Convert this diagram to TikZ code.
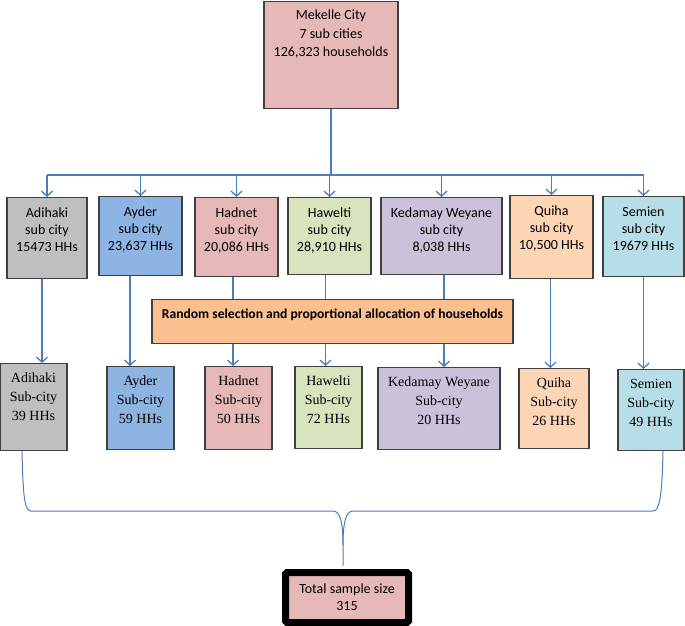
\documentclass[tikz,border=0pt]{standalone}
\usepackage{fontspec}
\setmainfont{Carlito}
\newfontfamily\timesfont{Liberation Serif}
\usetikzlibrary{arrows.meta}

\definecolor{linkblue}{HTML}{4A7EBB}
\definecolor{boxline}{HTML}{404040}
\definecolor{grayfill}{HTML}{BFBFBF}
\definecolor{bluefill}{HTML}{8EB4E3}
\definecolor{pinkfill}{HTML}{E6B9B8}
\definecolor{greenfill}{HTML}{D7E4BD}
\definecolor{purplefill}{HTML}{CCC1DA}
\definecolor{peachfill}{HTML}{FCD5B5}
\definecolor{cyanfill}{HTML}{B7DEE8}
\definecolor{orangefill}{HTML}{FAC090}

\tikzset{
  subcity/.style={draw=boxline, line width=1.4pt, fill=#1, align=center, anchor=north,
    inner xsep=2pt, inner ysep=9pt, text height=44.4pt, font=\fontsize{14}{16.7}\selectfont},
  sample/.style={draw=boxline, line width=1.4pt, fill=#1, align=center, anchor=north,
    inner xsep=2pt, inner ysep=8pt, text height=49pt, font=\timesfont\fontsize{14}{19}\selectfont},
  link/.style={draw=linkblue, line width=1.3pt},
}

\begin{document}
\begin{tikzpicture}[x=1pt, y=-1pt, >={Straight Barb[length=5pt,width=11pt]}]
	%\draw [help lines] (0,0) grid[step=50] (685,626);
	\useasboundingbox (0,0) rectangle (685,626);
	\node [subcity=pinkfill, minimum width=134pt, inner ysep=7pt, text height=48pt, text depth=45pt,
	  font=\fontsize{14}{18.5}\selectfont] (mek) at (331,1) {Mekelle City\\7 sub cities\\126,323 households};

	\node [subcity=grayfill, minimum width=80pt, text depth=18.6pt] (adi) at (47,197) {Adihaki\\sub city\\15473 HHs};
	\node [subcity=bluefill, minimum width=83pt, text depth=16.6pt] (ayd) at (140.5,196) {Ayder\\sub city\\23,637 HHs};
	\node [subcity=pinkfill, minimum width=83pt, text depth=16.6pt] (had) at (236.5,197) {Hadnet\\sub city\\20,086 HHs};
	\node [subcity=greenfill, minimum width=83pt, text depth=14.6pt] (haw) at (329.5,197) {Hawelti\\sub city\\28,910 HHs};
	\node [subcity=purplefill, minimum width=121pt, text depth=14.6pt] (ked) at (441.5,197) {Kedamay Weyane\\sub city\\8,038 HHs};
	\node [subcity=peachfill, minimum width=83pt, text depth=20.6pt] (qui) at (551.5,195) {Quiha\\sub city\\10,500 HHs};
	\node [subcity=cyanfill, minimum width=81pt, text depth=17.6pt] (sem) at (643.5,196) {Semien\\sub city\\19679 HHs};

	\node [subcity=orangefill, minimum width=361pt, inner ysep=8pt, text height=11pt, text depth=17pt,
	  font=\bfseries\fontsize{13.6}{16.7}\selectfont] (rand) at (332.5,299) {Random selection and proportional allocation of households};

	\node [sample=grayfill, minimum width=67pt, text depth=22pt] (adis) at (33.5,363) {Adihaki\\Sub-city\\39 HHs};
	\node [sample=bluefill, minimum width=67pt, text depth=18pt] (ayds) at (140.5,366) {Ayder\\Sub-city\\59 HHs};
	\node [sample=pinkfill, minimum width=67pt, text depth=18pt] (hads) at (238.5,366) {Hadnet\\Sub-city\\50 HHs};
	\node [sample=greenfill, minimum width=67pt, text depth=17pt] (haws) at (328.5,366) {Hawelti\\Sub-city\\72 HHs};
	\node [sample=purplefill, minimum width=122pt, text depth=17pt] (keds) at (439,367) {Kedamay Weyane\\Sub-city\\20 HHs};
	\node [sample=peachfill, minimum width=70pt, text depth=15pt] (quis) at (554,368) {Quiha\\Sub-city\\26 HHs};
	\node [sample=cyanfill, minimum width=66pt, text depth=16pt] (sems) at (651,369) {Semien\\Sub-city\\49 HHs};

	% split into the sub cities
	\coordinate (split) at (331,175);
	\draw [link] (mek.south) -- (split);
	\draw [link] (adi.north |- split) -- (sem.north |- split);
	\foreach \n in {adi,ayd,had,haw,ked,qui,sem}
	  \draw [link,->] (\n.north |- split) -- (\n.north);

	\draw [link,->] ([xshift=-5pt]adi.south) -- ([xshift=-5pt]adi.south |- adis.north);
	\draw [link,->] ([xshift=-10.5pt]ayd.south) -- ([xshift=-10.5pt]ayd.south |- ayds.north);
	\draw [link,->] ([xshift=-1pt]qui.south) -- ([xshift=-1pt]qui.south |- quis.north);
	\draw [link,->] (sem.south) -- (sem.south |- sems.north);
	\foreach \n/\dx in {had/-3.5,haw/-4,ked/2.5} {
	  \draw [link] ([xshift=\dx pt]\n.south) -- ([xshift=\dx pt]\n.south |- rand.north);
	  \draw [link,->] ([xshift=\dx pt]\n.south |- rand.south) -- ([xshift=\dx pt]\n.south |- \n s.north);
	}

	\node [draw=black, line width=7pt, rounded corners=1.5pt, fill=pinkfill, minimum width=123pt,
	  minimum height=50pt, inner sep=0pt, align=center, font=\fontsize{14}{17}\selectfont] (total) at (347,597.5) {Total sample size\\315};

	% brace to the total
	\draw [link, line width=1pt] ([xshift=-11.5pt]adis.south) .. controls +(1,48) and +(-6,0) .. (31,511)
	  -- (333,511) .. controls (340,511) and (343,522) .. (343,545) -- ([xshift=-4pt,yshift=3.5pt]total.north);
	\draw [link, line width=1pt] ([xshift=12pt]sems.south) .. controls +(-1,48) and +(6,0) .. (653,511)
	  -- (353,511) .. controls (346,511) and (343,522) .. (343,545);
\end{tikzpicture}
\end{document}
